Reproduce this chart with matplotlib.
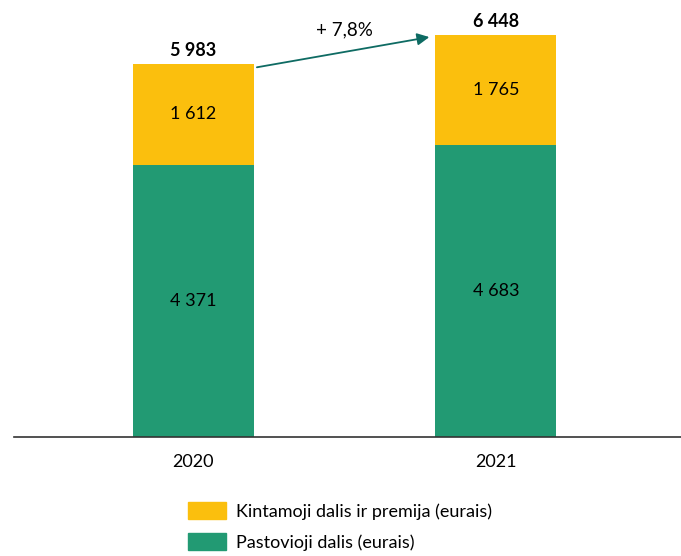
import matplotlib
matplotlib.use('Agg')
import matplotlib.pyplot as plt
from matplotlib.patches import Patch

plt.rcParams['font.family'] = ['Lato', 'DejaVu Sans']

# Duomenys
metai = ['2020', '2021']
pastovioji = [4371, 4683]
kintamoji = [1612, 1765]
viso = [5983, 6448]
augimas = '+ 7,8%'

geltona = '#FBBF0D'
zalia = '#229A73'
rodykle = '#0E6B63'

fig = plt.figure(figsize=(6.81, 5.56), dpi=100)
ax = fig.add_axes([14 / 681, 119 / 556, 667 / 681, 437 / 556])

x = range(len(metai))
ax.bar(x, pastovioji, width=0.4, color=zalia)
ax.bar(x, kintamoji, width=0.4, bottom=pastovioji, color=geltona)

for i in x:
    ax.text(i, pastovioji[i] / 2, f'{pastovioji[i]:,}'.replace(',', ' '),
            ha='center', va='center', fontsize=13)
    ax.text(i, pastovioji[i] + kintamoji[i] / 2, f'{kintamoji[i]:,}'.replace(',', ' '),
            ha='center', va='center', fontsize=13)
    ax.text(i, viso[i] + 80, f'{viso[i]:,}'.replace(',', ' '),
            ha='center', va='bottom', fontsize=13, fontweight='bold')

# Rodyklė tarp stulpelių
ax.annotate('', xy=(0.78, viso[1] - 30), xytext=(0.21, viso[0] - 50),
            arrowprops=dict(arrowstyle='-|>', color=rodykle, lw=1.3,
                            mutation_scale=18, shrinkA=0, shrinkB=0))
ax.text(0.5, 6400, augimas, ha='center', va='bottom', fontsize=13.5)

ax.set_xlim(-0.593, 1.612)
ax.set_ylim(0, 7013)
ax.set_xticks(list(x))
ax.set_xticklabels(metai, fontsize=13)
ax.tick_params(axis='x', length=0, pad=12)
ax.set_yticks([])
for s in ['top', 'right', 'left']:
    ax.spines[s].set_visible(False)
ax.spines['bottom'].set_color('#333333')
ax.spines['bottom'].set_linewidth(1.2)

handles = [Patch(color=geltona, label='Kintamoji dalis ir premija (eurais)'),
           Patch(color=zalia, label='Pastovioji dalis (eurais)')]
fig.legend(handles=handles, loc='upper left', bbox_to_anchor=(172 / 681, 1 - 486 / 556),
           frameon=False, fontsize=13, handlelength=2.1, handleheight=1.05,
           labelspacing=0.75, handletextpad=0.55)

fig.savefig('out.png', dpi=100)
